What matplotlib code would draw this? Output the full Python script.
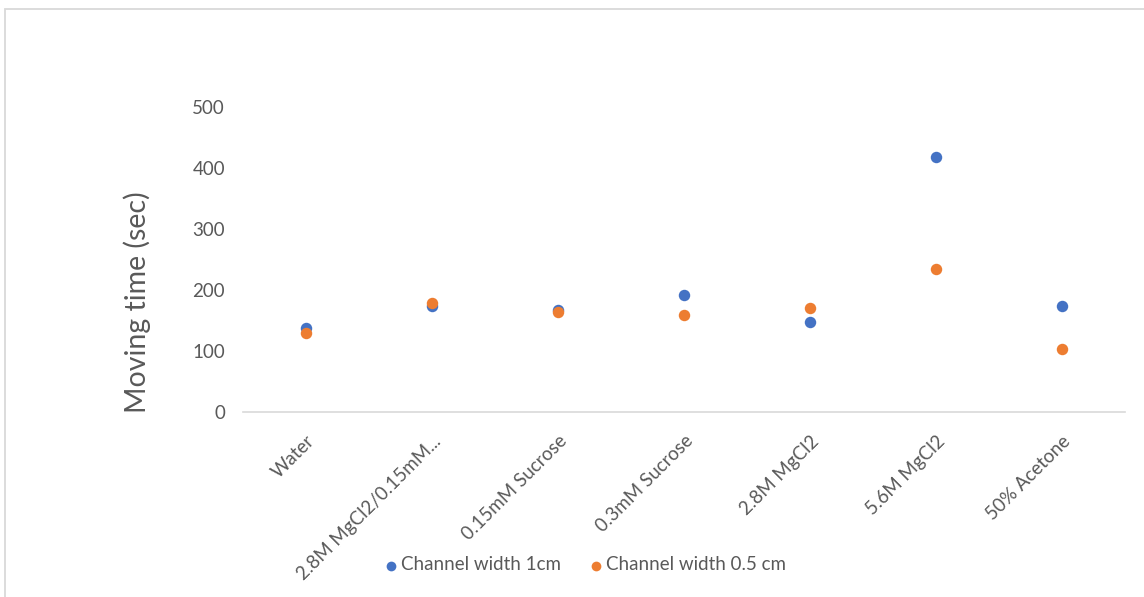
import matplotlib
matplotlib.use("Agg")
import matplotlib.pyplot as plt
from matplotlib.patches import Rectangle
from matplotlib.transforms import ScaledTranslation

categories = ["Water", "2.8M MgCl2/0.15mM...", "0.15mM Sucrose", "0.3mM Sucrose",
              "2.8M MgCl2", "5.6M MgCl2", "50% Acetone"]
width_1cm = [137, 174, 167, 192, 148, 418, 174]
width_05cm = [129, 178, 163, 159, 170, 234, 103]
yticks = [0, 100, 200, 300, 400, 500]

plt.rcParams['font.family'] = ['Lato', 'DejaVu Sans']
TXT = '#595959'
BLUE = '#4472C4'
ORANGE = '#ED7D31'

W, H = 1144, 597
fig = plt.figure(figsize=(W / 100, H / 100), dpi=100)

x0, x1 = 243, 1125
y_top, y_bot = 106.7, 412
ax = fig.add_axes([x0 / W, 1 - y_bot / H, (x1 - x0) / W, (y_bot - y_top) / H])

xs = list(range(len(categories)))
ax.scatter(xs, width_1cm, s=68, color=BLUE, linewidths=0, label='Channel width 1cm', zorder=3)
ax.scatter(xs, width_05cm, s=68, color=ORANGE, linewidths=0, label='Channel width 0.5 cm', zorder=3)

ax.set_xlim(-0.5, len(categories) - 0.5)
ax.set_ylim(0, 500)
ax.set_yticks(yticks)
ax.set_yticklabels([str(v) for v in yticks])
ax.set_xticks(xs)
ax.set_xticklabels(categories, rotation=45, ha='right', va='center', rotation_mode='anchor')

for s in ['top', 'right', 'left']:
    ax.spines[s].set_visible(False)
ax.spines['bottom'].set_color('#d9d9d9')
ax.spines['bottom'].set_linewidth(1.2)

ax.tick_params(axis='y', length=0, pad=13, labelsize=13.5, labelcolor=TXT)
ax.tick_params(axis='x', length=0, pad=19, labelsize=13.5, labelcolor=TXT)
off = ScaledTranslation(6 / 100, 0, fig.dpi_scale_trans)
for lab in ax.get_xticklabels():
    lab.set_transform(lab.get_transform() + off)

fig.text(137 / W, 1 - 302.5 / H, 'Moving time (sec)', rotation=90, ha='center', va='center',
         fontsize=20.5, color=TXT)

leg = fig.legend(loc='center', bbox_to_anchor=(586 / W, 1 - 565 / H), ncol=2, frameon=False,
                 fontsize=13.5, labelcolor=TXT, handlelength=0.5, handletextpad=0.3,
                 columnspacing=1.6, markerscale=0.85, scatterpoints=1)

fig.patches.append(Rectangle((5 / W, -0.1), 1.2, 1 - 9 / H + 0.1, transform=fig.transFigure,
                             fill=False, edgecolor='#d9d9d9', linewidth=1.3, zorder=0))

fig.savefig('out.png', dpi=100)
